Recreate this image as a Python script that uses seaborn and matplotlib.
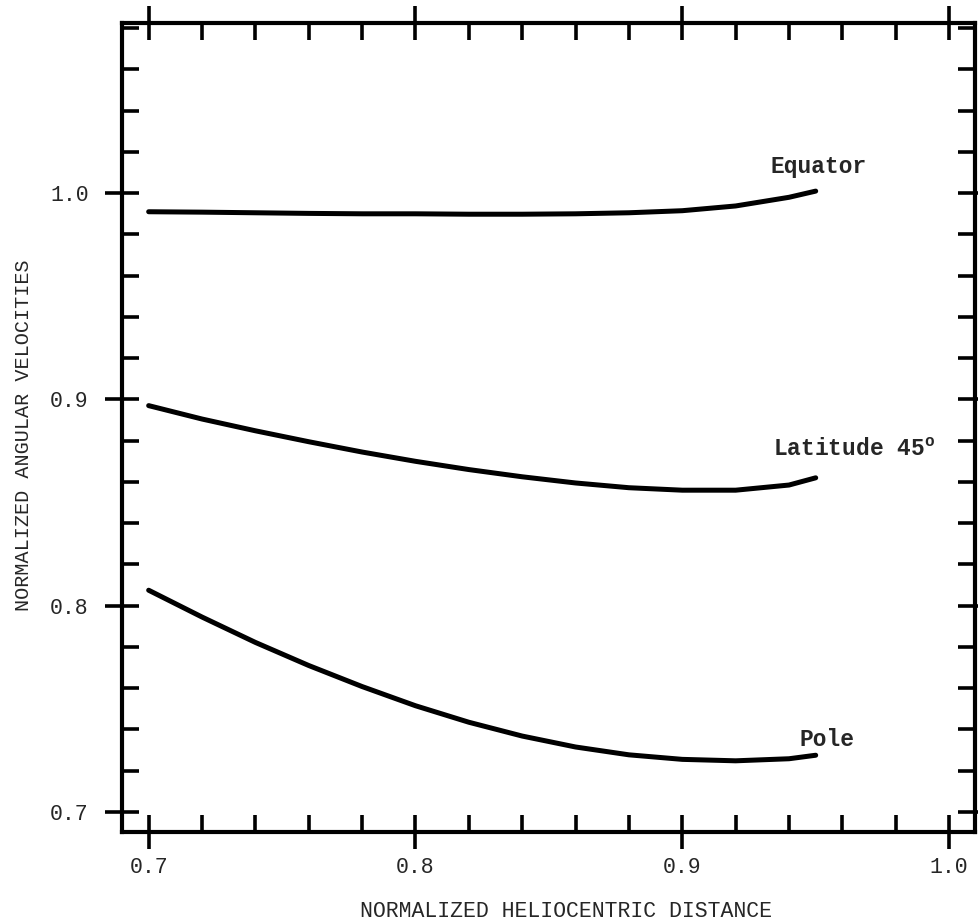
import numpy as np
import pandas as pd
import matplotlib
matplotlib.use("Agg")
import matplotlib.pyplot as plt
from matplotlib.ticker import MultipleLocator
import seaborn as sns

# values
dist = [0.70, 0.72, 0.74, 0.76, 0.78, 0.80, 0.82, 0.84, 0.86, 0.88, 0.90, 0.92, 0.94, 0.95]
equator = [0.991, 0.9908, 0.9905, 0.9902, 0.990, 0.990, 0.9898, 0.9898, 0.990, 0.9905, 0.9915, 0.9938, 0.998, 1.001]
lat45 = [0.897, 0.8905, 0.8848, 0.8795, 0.8745, 0.870, 0.866, 0.8625, 0.8595, 0.8572, 0.856, 0.856, 0.8585, 0.862]
pole = [0.8075, 0.7945, 0.7822, 0.7710, 0.7608, 0.7515, 0.7435, 0.7368, 0.7315, 0.7277, 0.7255, 0.7248, 0.7258, 0.7275]

d = pd.DataFrame({
    'dist': dist * 3,
    'vel': equator + lat45 + pole,
    'curve': [s for s in ['eq', 'lat', 'pole'] for _ in dist],
})

sns.set_style('white')
plt.rcParams['font.family'] = ['Liberation Mono', 'DejaVu Sans Mono']
plt.rcParams['mathtext.fontset'] = 'custom'
plt.rcParams['mathtext.rm'] = 'Liberation Mono'
plt.rcParams['mathtext.bf'] = 'Liberation Mono:bold'

f = plt.figure(figsize=(9.79, 9.24), dpi=100)
ax = f.add_axes([0.1246, 0.0996, 0.8713, 0.8755])

sns.lineplot(x='dist', y='vel', data=d, units='curve', estimator=None,
             color='black', linewidth=3.6, ax=ax, legend=False)
for ln in ax.lines:
    ln.set_solid_capstyle('round')
    ln.set_solid_joinstyle('round')

ax.set_xlim(0.690, 1.0097)
ax.set_ylim(0.6903, 1.0825)

ax.xaxis.set_minor_locator(MultipleLocator(0.02))
ax.yaxis.set_minor_locator(MultipleLocator(0.02))
ax.set_xticks([0.7, 0.8, 0.9, 1.0])
ax.set_xticklabels(['0.7', '0.8', '0.9', '1.0'])
ax.set_yticks([0.7, 0.8, 0.9, 1.0])
ax.set_yticklabels(['0.7', '0.8', '0.9', '1.0'])

ax.tick_params(which='major', direction='inout', length=24, width=2.6,
               bottom=True, left=True, top=True, right=True,
               labelsize=15.5, color='black')
ax.tick_params(which='minor', direction='in', length=12, width=2.6,
               bottom=True, left=True, top=True, right=True, color='black')
ax.tick_params(axis='x', which='major', pad=6)
ax.tick_params(axis='y', which='major', pad=12)

for s in ax.spines.values():
    s.set_linewidth(3)
    s.set_color('black')

# curve labels
ax.text(0.933, 1.013, 'Equator', fontsize=16.5, fontweight='bold', va='center')
ax.text(0.934, 0.8757, 'Latitude 45$^{\\mathbf{o}}$', fontsize=16.5, fontweight='bold', va='center')
ax.text(0.944, 0.735, 'Pole', fontsize=16.5, fontweight='bold', va='center')

ax.set_xlabel('NORMALIZED HELIOCENTRIC DISTANCE', fontsize=15.5)
ax.set_ylabel('NORMALIZED ANGULAR VELOCITIES', fontsize=14.5)
ax.xaxis.label.set_va('center')
ax.yaxis.label.set_va('center')
ax.xaxis.set_label_coords(0.52, -0.0977)
ax.yaxis.set_label_coords(-0.115, 0.49)

f.savefig('out.png', dpi=100, facecolor='white')
